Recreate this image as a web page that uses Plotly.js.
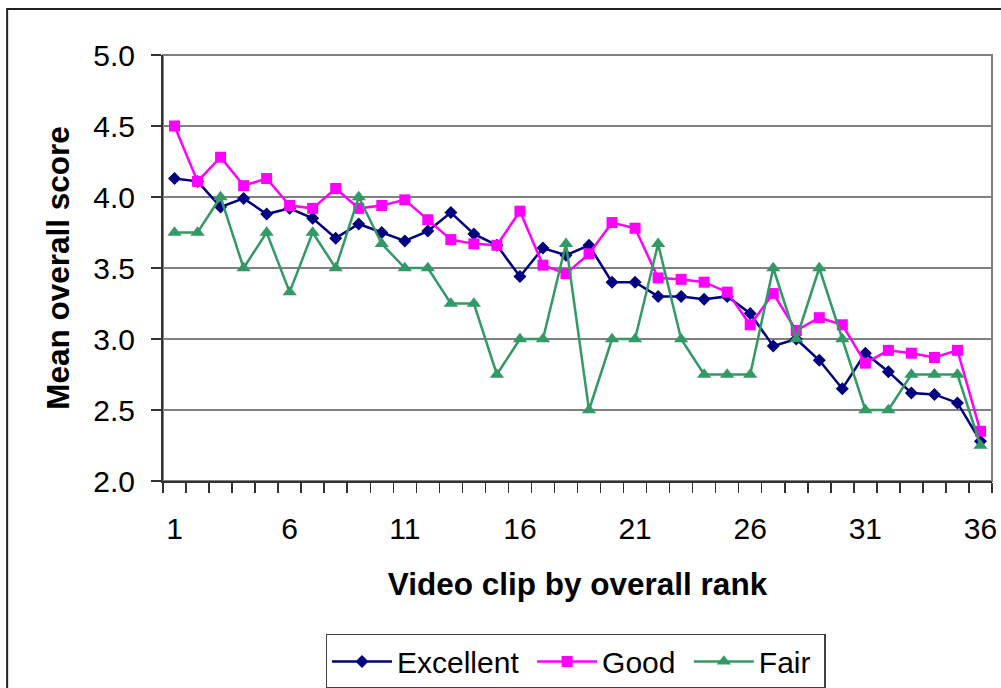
<!DOCTYPE html>
<html>
<head>
<meta charset="utf-8">
<script src="https://cdn.plot.ly/plotly-3.0.1.min.js"></script>
<style>html,body{margin:0;padding:0;background:#fff;}#chart{width:1001px;height:688px;}</style>
</head>
<body>
<div id="chart"></div>
<script>
const clipRank = [1,2,3,4,5,6,7,8,9,10,11,12,13,14,15,16,17,18,19,20,21,22,23,24,25,26,27,28,29,30,31,32,33,34,35,36];
const excellent = [4.13,4.11,3.93,3.99,3.88,3.92,3.85,3.71,3.81,3.75,3.69,3.76,3.89,3.74,3.66,3.44,3.64,3.59,3.66,3.40,3.40,3.30,3.30,3.28,3.30,3.18,2.95,3.00,2.85,2.65,2.90,2.77,2.62,2.61,2.55,2.28];
const good = [4.50,4.11,4.28,4.08,4.13,3.94,3.92,4.06,3.92,3.94,3.98,3.84,3.70,3.67,3.66,3.90,3.52,3.46,3.60,3.82,3.78,3.43,3.42,3.40,3.33,3.10,3.32,3.06,3.15,3.10,2.83,2.92,2.90,2.87,2.92,2.35];
const fair = [3.75,3.75,4.00,3.50,3.75,3.33,3.75,3.50,4.00,3.67,3.50,3.50,3.25,3.25,2.75,3.00,3.00,3.67,2.50,3.00,3.00,3.67,3.00,2.75,2.75,2.75,3.50,3.00,3.50,3.00,2.50,2.50,2.75,2.75,2.75,2.25];
const seriesNames = ['Excellent', 'Good', 'Fair'];
const xTickVals = [1,6,11,16,21,26,31,36];
const yTickVals = [2.0,2.5,3.0,3.5,4.0,4.5,5.0];

const FONT = 'Liberation Sans, Arial, sans-serif';
const PAD = '\u00a0';

const traces = [
  {x: clipRank, y: excellent, name: seriesNames[0] + PAD, type: 'scatter', mode: 'lines+markers',
   line: {color: '#000080', width: 2.5}, marker: {symbol: 'diamond', size: 10, color: '#000080'}},
  {x: clipRank, y: good, name: seriesNames[1] + PAD, type: 'scatter', mode: 'lines+markers',
   line: {color: '#FF00FF', width: 2.5}, marker: {symbol: 'square', size: 11, color: '#FF00FF'}},
  {x: clipRank, y: fair, name: seriesNames[2] + PAD, type: 'scatter', mode: 'lines+markers',
   line: {color: '#339966', width: 2.5}, marker: {symbol: 'triangle-up', size: 12.5, color: '#339966'}}
];

const layout = {
  width: 1001, height: 688,
  margin: {l: 163, r: 9, t: 55, b: 207, autoexpand: false},
  paper_bgcolor: '#ffffff', plot_bgcolor: '#ffffff',
  font: {family: FONT, size: 30, color: '#000'},
  showlegend: true,
  legend: {orientation: 'h', x: 0.4976, xanchor: 'center', y: -0.359, yanchor: 'top',
    bordercolor: '#404040', borderwidth: 1.5, bgcolor: '#fff',
    font: {family: FONT, size: 30, color: '#000'}, itemwidth: 60, tracegroupgap: 0},
  xaxis: {
    range: [0.5, 36.5], tickmode: 'array', tickvals: xTickVals, ticktext: xTickVals.map(String),
    ticks: 'outside', ticklen: 10, tickcolor: 'rgba(0,0,0,0)', showgrid: false, zeroline: false,
    showline: true, linecolor: '#333', linewidth: 2, ticklabelstandoff: 10,
    minor: {tickmode: 'linear', tick0: 0.5, dtick: 1, ticks: 'outside', ticklen: 10, tickcolor: '#333', tickwidth: 1.5, showgrid: false},
    tickfont: {family: FONT, size: 30},
    title: {text: 'Video clip by overall rank', font: {family: FONT, size: 31.5, color: '#000', weight: 'bold'}, standoff: 29},
    automargin: false, fixedrange: true
  },
  yaxis: {
    range: [2.0, 5.0], tickmode: 'array', tickvals: yTickVals, ticktext: yTickVals.map(v => v.toFixed(1)),
    ticks: 'outside', ticklen: 10, tickcolor: '#333', tickwidth: 1.5,
    showgrid: true, gridcolor: '#808080', gridwidth: 2, zeroline: false,
    showline: true, linecolor: '#333', linewidth: 2, ticklabelstandoff: 10,
    tickfont: {family: FONT, size: 30},
    title: {text: 'Mean overall score', font: {family: FONT, size: 31.5, color: '#000', weight: 'bold'}, standoff: 14},
    automargin: false, fixedrange: true
  },
  shapes: [
    {type: 'rect', xref: 'paper', yref: 'paper', x0: 0, x1: 1, y0: 0, y1: 1, line: {color: '#808080', width: 2}, layer: 'below'},
    {type: 'rect', xref: 'paper', yref: 'paper', x0: -0.188, x1: 1.3, y0: -1.0, y1: 1.108, line: {color: '#222', width: 2}, layer: 'below'}
  ]
};

Plotly.newPlot('chart', traces, layout, {staticPlot: true, displayModeBar: false});
</script>
</body>
</html>
